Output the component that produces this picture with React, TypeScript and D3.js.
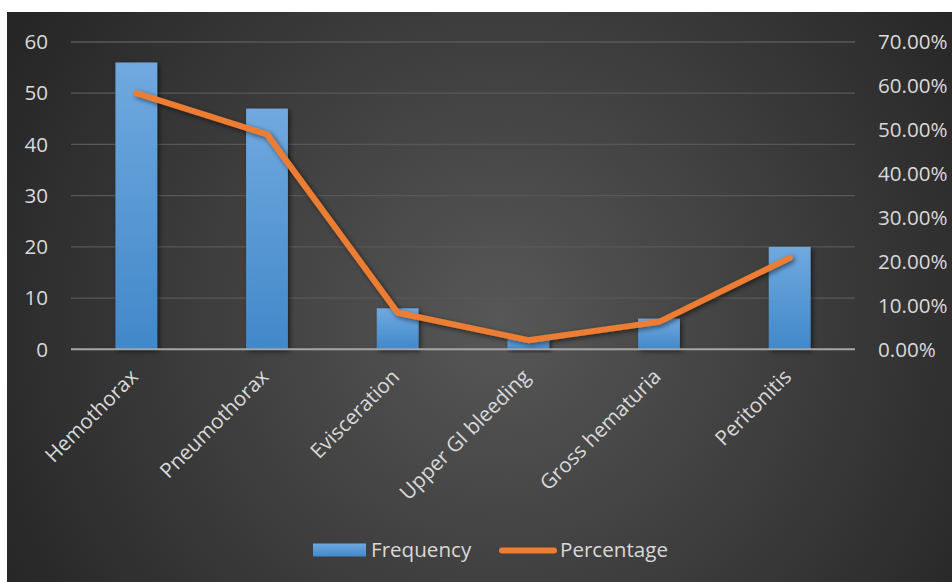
import React from "react";
import * as d3 from "d3";

const categories = ["Hemothorax", "Pneumothorax", "Evisceration", "Upper GI bleeding", "Gross hematuria", "Peritonitis"];
const frequency = [56, 47, 8, 2, 6, 20];
const percentage = [0.5833, 0.4896, 0.0833, 0.0208, 0.0625, 0.2083];
const leftTicks = [0, 10, 20, 30, 40, 50, 60];
const rightTicks = [0, 0.1, 0.2, 0.3, 0.4, 0.5, 0.6, 0.7];
const seriesNames = ["Frequency", "Percentage"];

const W = 952;
const H = 582;
const FONT = "'Open Sans', 'Liberation Sans', sans-serif";
const TXT = "#d9d9d9";
const FS = 20.6;

export default function App() {
  const x = d3.scaleBand<string>().domain(categories).range([71, 855]).padding(0);
  const y = d3.scaleLinear().domain([0, 60]).range([349.3, 42]);
  const y2 = d3.scaleLinear().domain([0, 0.7]).range([349.3, 42]);
  const barW = x.step() * 0.32;
  const cx = (c: string) => (x(c) as number) + x.bandwidth() / 2;
  const line = d3
    .line<number>()
    .x((_, i) => cx(categories[i]))
    .y((d) => y2(d));
  const fmt = d3.format(".2%");

  return (
    <svg width={W} height={H} style={{ position: "absolute", left: 0, top: 0 }}>
      <defs>
        <radialGradient id="bg" gradientUnits="userSpaceOnUse" cx={500} cy={320} r={560}>
          <stop offset="0" stopColor="#575757" />
          <stop offset="1" stopColor="#262626" />
        </radialGradient>
        <linearGradient id="bar" x1="0" y1="0" x2="0" y2="1">
          <stop offset="0" stopColor="#70a9df" />
          <stop offset="1" stopColor="#4188c9" />
        </linearGradient>
        <filter id="shadow" x="-20%" y="-20%" width="150%" height="150%">
          <feDropShadow dx="2" dy="2" stdDeviation="2.5" floodColor="#000" floodOpacity="0.55" />
        </filter>
      </defs>
      <rect x={7} y={12} width={W - 7} height={H - 12} fill="url(#bg)" />
      {leftTicks.map((t) => (
        <g key={t}>
          {t !== 0 && <line x1={71} x2={855} y1={y(t)} y2={y(t)} stroke="#585858" strokeWidth={1.3} />}
          <text x={48} y={y(t)} dy="0.35em" textAnchor="end" fontFamily={FONT} fontSize={FS} fill={TXT}>
            {t}
          </text>
        </g>
      ))}
      {rightTicks.map((t) => (
        <text key={t} x={878} y={y2(t)} dy="0.35em" textAnchor="start" fontFamily={FONT} fontSize={FS} fill={TXT}>
          {fmt(t)}
        </text>
      ))}
      {categories.map((c, i) => (
        <rect
          key={c}
          x={cx(c) - barW / 2}
          y={y(frequency[i])}
          width={barW}
          height={y(0) - y(frequency[i])}
          fill="url(#bar)"
          filter="url(#shadow)"
        />
      ))}
      <line x1={71} x2={855} y1={y(0)} y2={y(0)} stroke="#a6a6a6" strokeWidth={2} />
      <path
        d={line(percentage) || ""}
        fill="none"
        stroke="#ed7d31"
        strokeWidth={6}
        strokeLinecap="round"
        strokeLinejoin="round"
        filter="url(#shadow)"
      />
      {categories.map((c) => (
        <text
          key={c}
          transform={`translate(${cx(c) + 3},${378}) rotate(-45)`}
          textAnchor="end"
          fontFamily={FONT}
          fontSize={FS}
          fill={TXT}
        >
          {c}
        </text>
      ))}
      <g fontFamily={FONT} fontSize={FS} fill={TXT}>
        <rect x={313} y={543.5} width={53} height={13} fill="url(#bar)" />
        <text x={371} y={550} dy="0.35em">{seriesNames[0]}</text>
        <line x1={502} x2={554} y1={550.5} y2={550.5} stroke="#ed7d31" strokeWidth={6} strokeLinecap="round" />
        <text x={560} y={550} dy="0.35em">{seriesNames[1]}</text>
      </g>
    </svg>
  );
}
